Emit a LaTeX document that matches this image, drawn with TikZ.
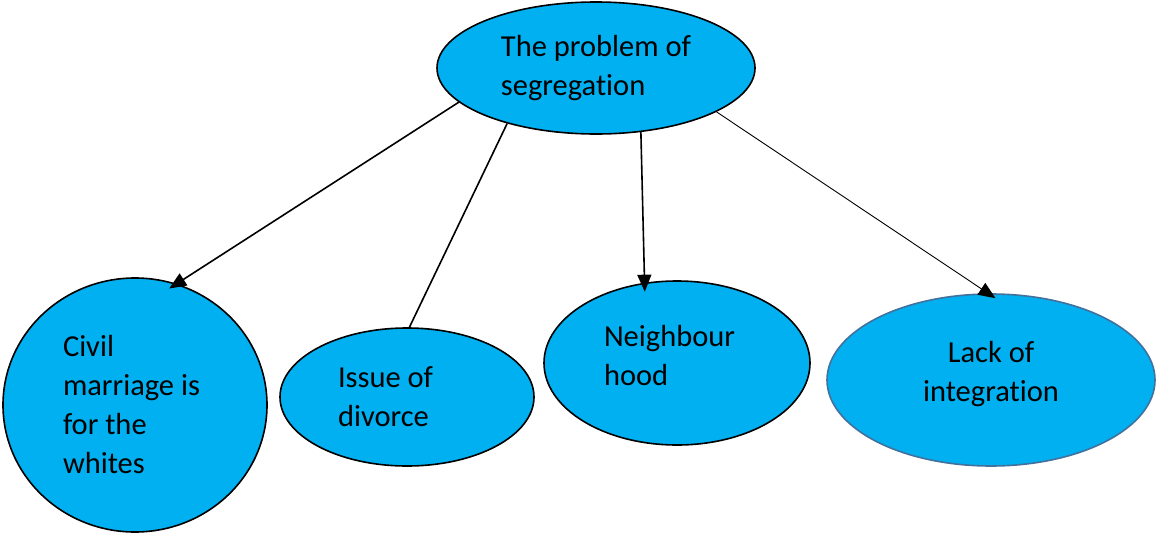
\documentclass[tikz,border=0pt]{standalone}
\usepackage{fontspec}
\setmainfont{Carlito}[Ligatures=CommonOff]
\usetikzlibrary{shapes.geometric,arrows.meta}

\definecolor{bubbleBlue}{HTML}{00B0F0}
\definecolor{rimBlue}{HTML}{41719C}

\tikzstyle{bubble}=[ellipse,draw=black,line width=1.6pt,fill=bubbleBlue,inner sep=0pt,font=\fontsize{30.5}{39}\selectfont]
\tikzstyle{link}=[line width=1.6pt]
\tikzstyle{thinLink}=[line width=0.9pt]
\tikzstyle{arrowHead}=[-{Triangle[length=17pt,width=14pt]},shorten >=-9pt]

\begin{document}
\begin{tikzpicture}[x=1pt, y=-1pt]
	\useasboundingbox (0,0) rectangle (1156,533);

	% Oberer Knoten
	\node(problem) at (596,68) [bubble, minimum width=318pt, minimum height=132pt, align=left] {The problem of\\segregation};

	% Untere Reihe
	\node(civil) at (135,405) [bubble, minimum width=264pt, minimum height=254pt, text width=144pt, align=flush left] {Civil\\marriage is\\for the\\whites};
	\node(divorce) at (407,397) [bubble, minimum width=254pt, minimum height=138pt, text width=138pt, align=flush left] {Issue of\\divorce};
	\node(hood) at (677,363) [bubble, minimum width=266pt, minimum height=164pt, text width=146pt, text depth=55pt, align=flush left] {Neighbour\\hood};
	\node(lack) at (991,380) [bubble, draw=rimBlue, minimum width=328pt, minimum height=172pt, text depth=18pt, align=center] {Lack of\\integration};

	% Verbindungen
	\draw[link, arrowHead] (problem.194) -- (civil.71);
	\draw[link] (problem.212) -- (divorce.88);
	\draw[link, arrowHead] (problem.305) -- (hood.112);
	\draw[thinLink, arrowHead] (problem.340) -- (lack.92);

\end{tikzpicture}
\end{document}
